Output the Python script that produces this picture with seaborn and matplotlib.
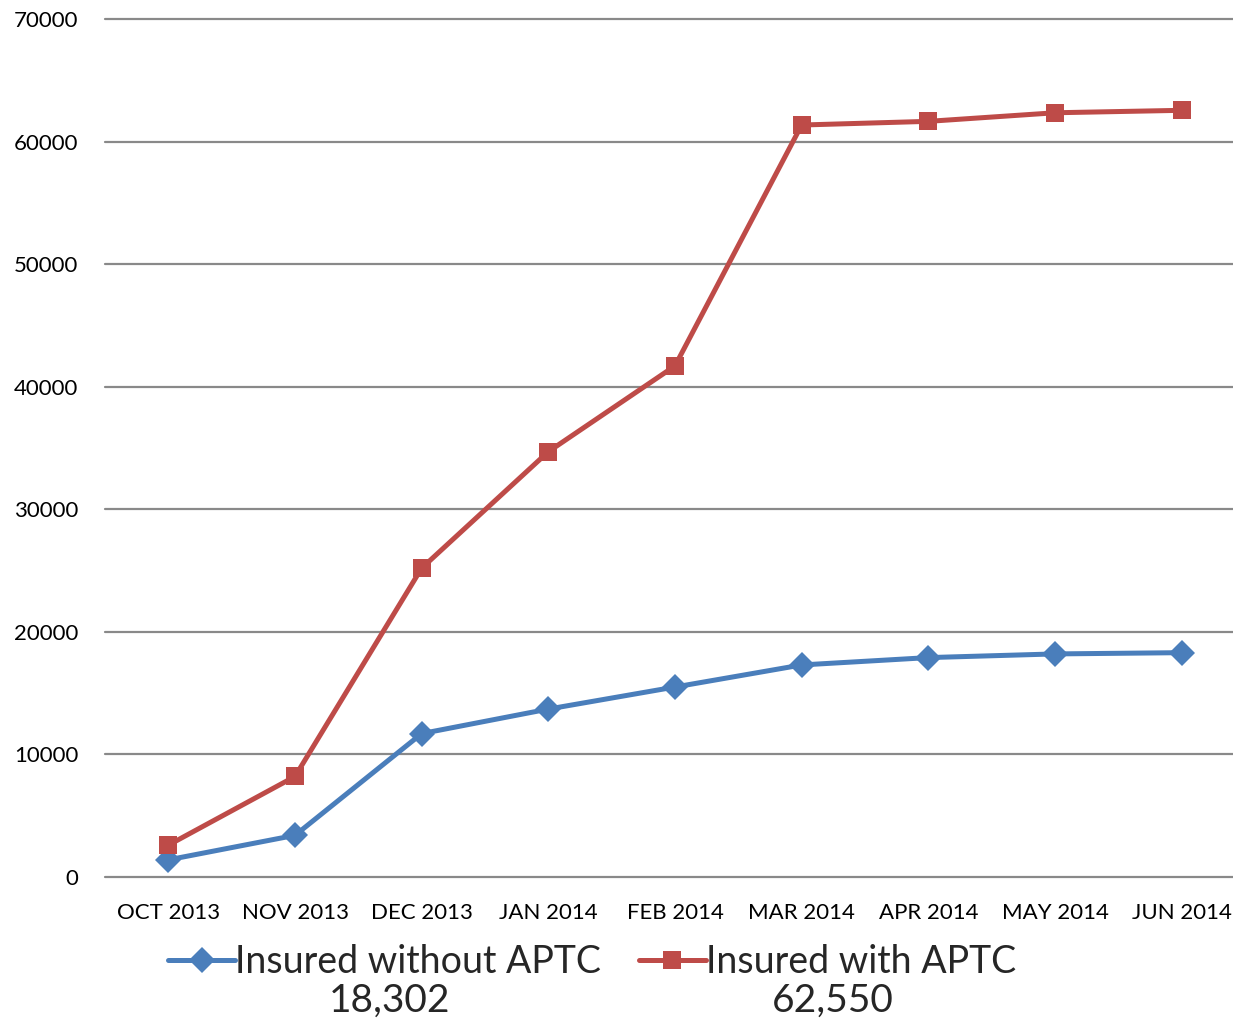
import pandas as pd
import matplotlib
matplotlib.use('Agg')
import matplotlib.pyplot as plt
import seaborn as sns

# ──────────────────────────────────────────────
# Data
# ──────────────────────────────────────────────
months = ['OCT 2013', 'NOV 2013', 'DEC 2013', 'JAN 2014', 'FEB 2014',
          'MAR 2014', 'APR 2014', 'MAY 2014', 'JUN 2014']
without_aptc = [1400, 3400, 11700, 13700, 15500, 17300, 17900, 18200, 18302]
with_aptc = [2600, 8200, 25200, 34700, 41700, 61350, 61650, 62350, 62550]
series_names = ['Insured without APTC', 'Insured with APTC']
totals = ['18,302', '62,550']
y_ticks = [0, 10000, 20000, 30000, 40000, 50000, 60000, 70000]

df = pd.DataFrame({
    'x': list(range(len(months))) * 2,
    'value': without_aptc + with_aptc,
    'series': [series_names[0]] * len(months) + [series_names[1]] * len(months),
})

sns.set_theme(style="white")
plt.rcParams['font.family'] = ['Lato', 'DejaVu Sans']

fig = plt.figure(figsize=(12.33, 10.23), dpi=100)
ax = fig.add_axes([105 / 1233, 146 / 1023, 1140 / 1233, 858 / 1023])

palette = {series_names[0]: '#4A7EBB', series_names[1]: '#BE4B48'}
markers = {series_names[0]: 'D', series_names[1]: 's'}
sns.lineplot(data=df, x='x', y='value', hue='series', style='series',
             palette=palette, markers=markers, dashes=False,
             linewidth=3.6, markersize=12.5, markeredgewidth=0,
             ax=ax, legend=False, zorder=3)
lines = ax.get_lines()[:2]
lines[0].set_markersize(13.5)

ax.set_xlim(-0.5, len(months) - 0.5)
ax.set_ylim(0, 70000)
ax.set_yticks(y_ticks)
ax.set_yticklabels([str(v) for v in y_ticks])
ax.set_xticks(range(len(months)))
ax.set_xticklabels(months)
ax.set_xlabel('')
ax.set_ylabel('')
ax.tick_params(axis='both', length=0, labelsize=16, colors='black')
ax.tick_params(axis='y', pad=19)
ax.tick_params(axis='x', pad=19)

for spine in ax.spines.values():
    spine.set_visible(False)
ax.yaxis.grid(True, color='#898989', linewidth=1.6)
for gl in ax.yaxis.get_gridlines():
    gl.set_clip_on(False)

# legend: series names on the first row, totals centred underneath
leg = fig.legend(lines, series_names, loc='center', bbox_to_anchor=(592 / 1233, 61 / 1023),
                 ncol=2, frameon=False, fontsize=27, handlelength=1.8, handletextpad=0.0,
                 columnspacing=1.0, borderpad=0)
fig.canvas.draw()
renderer = fig.canvas.get_renderer()
for h, t, total in zip(leg.legend_handles, leg.get_texts(), totals):
    hb = h.get_window_extent(renderer)
    tb = t.get_window_extent(renderer)
    cx = ((hb.x0 + tb.x1) / 2 + 10) / fig.bbox.width
    fig.text(cx, 22 / 1023, total, ha='center', va='center', fontsize=28)

fig.savefig('out.png', dpi=100)
